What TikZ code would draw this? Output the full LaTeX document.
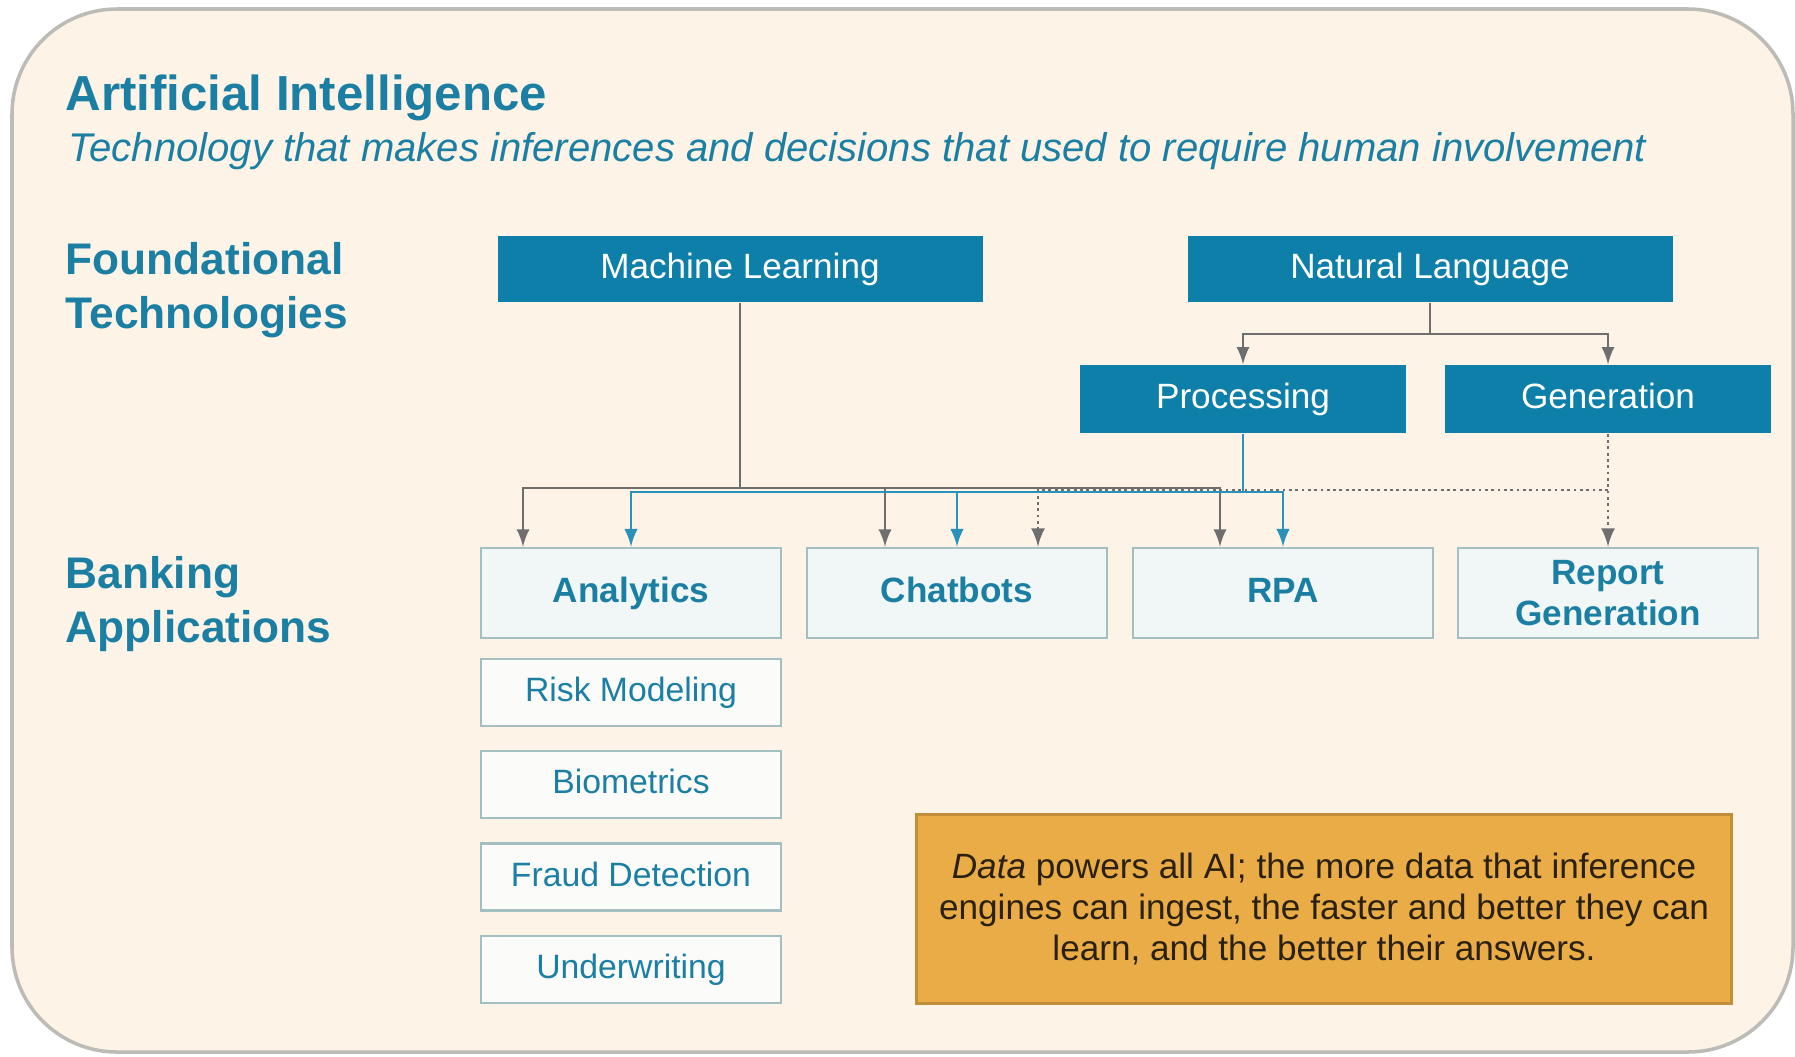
\documentclass[tikz,border=0pt]{standalone}
\usepackage{fontspec}
\setmainfont{Liberation Sans}

\definecolor{bgcream}{HTML}{FDF3E6}
\definecolor{bordergray}{HTML}{BDBBB6}
\definecolor{titleblue}{HTML}{1B7FA3}
\definecolor{techblue}{HTML}{0D7FA8}
\definecolor{appfill}{HTML}{F1F7F6}
\definecolor{subfill}{HTML}{FBFBF9}
\definecolor{appedge}{HTML}{A3BFC2}
\definecolor{linkgray}{HTML}{6E6E6E}
\definecolor{linkblue}{HTML}{2A92BA}
\definecolor{datafill}{HTML}{E9AC46}
\definecolor{dataedge}{HTML}{C38E3A}
\definecolor{datatext}{HTML}{2B2113}

\tikzset{
  techbox/.style={fill=techblue, text=white, minimum width=4.85cm, minimum height=0.66cm, inner sep=0pt, text height=0.72em, text depth=0.2em, font=\fontsize{10}{12}\selectfont},
  nlpbox/.style={techbox, minimum width=3.26cm, minimum height=0.68cm},
  appbox/.style={draw=appedge, fill=appfill, line width=0.8pt, text=titleblue, minimum width=3cm, minimum height=0.9cm, inner sep=0pt, text height=0.72em, text depth=0.2em, align=center, font=\bfseries\fontsize{10}{11.7}\selectfont},
  subbox/.style={appbox, fill=subfill, minimum height=0.67cm, font=\fontsize{9.6}{11}\selectfont},
  graylink/.style={->, >=latex, draw=linkgray, line width=0.7pt},
  bluelink/.style={->, >=latex, draw=linkblue, line width=0.75pt},
  dotlink/.style={->, >=latex, draw=linkgray, line width=0.8pt, densely dotted}
}

\begin{document}
\begin{tikzpicture}
\useasboundingbox (0,0) rectangle (17.95,-10.56);

% background panel
\draw[draw=bordergray, fill=bgcream, line width=1pt, rounded corners=1.05cm] (0.12,-0.09) rectangle (17.93,-10.52);

% headings
\node[anchor=west, inner sep=0pt, text=titleblue, font=\bfseries\fontsize{14}{16}\selectfont] (title) at (0.65,-0.98) {Artificial Intelligence};
\node[anchor=west, inner sep=0pt, text=titleblue, font=\itshape\fontsize{11.4}{13}\selectfont] (subtitle) at (0.68,-1.51) {Technology that makes inferences and decisions that used to require human involvement};

\node[anchor=west, inner sep=0pt, align=left, text=titleblue, font=\bfseries\fontsize{12.6}{15.2}\selectfont] (foundational) at (0.65,-2.90) {Foundational\\Technologies};
\node[anchor=west, inner sep=0pt, align=left, text=titleblue, font=\bfseries\fontsize{12.6}{15.2}\selectfont] (banking) at (0.65,-6.04) {Banking\\Applications};

% foundational technologies
\node[techbox] (ml) at (7.40,-2.69) {Machine Learning};
\node[techbox] (nl) at (14.30,-2.69) {Natural Language};
\node[nlpbox] (proc) at (12.43,-3.99) {Processing};
\node[nlpbox] (gen) at (16.08,-3.99) {Generation};

\coordinate (nljoin) at (14.30,-3.34);
\draw[linkgray, line width=0.7pt] (nl.south) -- (nljoin);
\draw[graylink] (nljoin) -| (proc.north);
\draw[graylink] (nljoin) -| (gen.north);


% banking applications
\node[appbox] (analytics) at (6.31,-5.93) {Analytics};
\node[appbox] (chatbots) at (9.57,-5.93) {Chatbots};
\node[appbox] (rpa) at (12.83,-5.93) {RPA};
\node[appbox, text height=, text depth=] (report) at (16.08,-5.93) {Report\\Generation};

\node[subbox] (risk) at (6.31,-6.925) {Risk Modeling};
\node[subbox] (bio) at (6.31,-7.845) {Biometrics};
\node[subbox] (fraud) at (6.31,-8.77) {Fraud Detection};
\node[subbox] (under) at (6.31,-9.695) {Underwriting};


% machine learning links
\coordinate (mljoin) at (7.40,-4.88);
\draw[linkgray, line width=0.7pt] (ml.south) -- (mljoin);
\draw[graylink] (mljoin) -| ([xshift=-1.08cm]analytics.north);
\draw[graylink] (mljoin) -| ([xshift=-0.72cm]chatbots.north);
\draw[graylink] (mljoin) -| ([xshift=-0.63cm]rpa.north);

% generation links
\coordinate (genjoin) at (16.08,-4.90);
\draw[dotlink] (gen.south) -- (report.north);
\draw[dotlink] (genjoin) -| ([xshift=0.81cm]chatbots.north);

% processing links
\coordinate (procjoin) at (12.43,-4.92);
\draw[linkblue, line width=0.75pt] (proc.south) -- (procjoin);
\draw[bluelink] (procjoin) -| (analytics.north);
\draw[bluelink] (procjoin) -| (chatbots.north);
\draw[bluelink] (procjoin) -| (rpa.north);


% data note
\node[draw=dataedge, fill=datafill, line width=1pt, text=datatext, minimum width=8.15cm, minimum height=1.89cm, align=center, font=\fontsize{10}{11.7}\selectfont] (data) at (13.24,-9.09) {\textit{Data} powers all AI; the more data that inference\\engines can ingest, the faster and better they can\\learn, and the better their answers.};

\end{tikzpicture}
\end{document}
